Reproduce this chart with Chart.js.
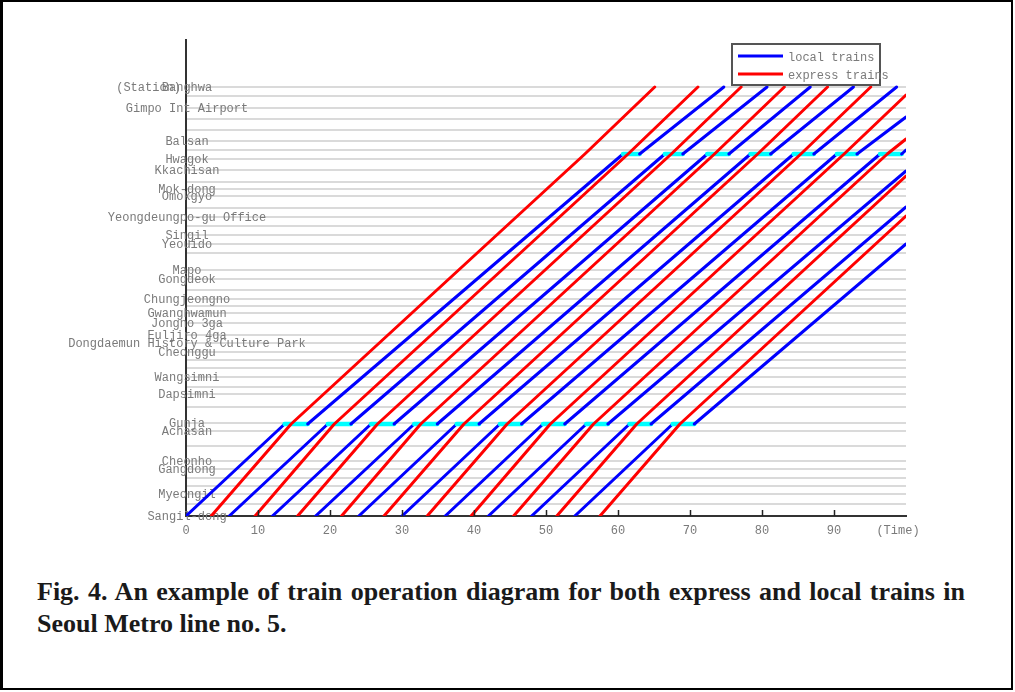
<!DOCTYPE html>
<html>
<head>
<meta charset="utf-8">
<script src="https://cdn.jsdelivr.net/npm/chart.js@4.4.1/dist/chart.umd.min.js"></script>
<style>
html,body{margin:0;padding:0;background:#fff;}
body{width:1015px;height:692px;position:relative;overflow:hidden;}
#frame{position:absolute;left:0;top:0;width:1008px;height:686px;border:2px solid #000;border-left-width:3px;}
#wrap{position:absolute;left:0;top:0;width:1015px;height:560px;}
.cap{position:absolute;font-family:"Liberation Serif","Times New Roman",serif;font-size:26px;line-height:32px;color:#1a1a1a;font-weight:bold;}
#cap1{left:37px;top:576px;width:928px;text-align:justify;text-align-last:justify;white-space:nowrap;}
#cap2{left:37px;top:608px;white-space:nowrap;}
</style>
</head>
<body>
<div id="frame"></div>
<div id="wrap"><canvas id="c" width="1015" height="560"></canvas></div>
<div class="cap" id="cap1">Fig. 4. An example of train operation diagram for both express and local trains in</div>
<div class="cap" id="cap2">Seoul Metro line no. 5.</div>
<script>
// ---- stations (position along the line, Sangil-dong = 0) ----
const stationNames = ['Banghwa','Gaehwasan','Gimpo Intl Airport','Songjeong','Magok','Balsan','Ujangsan','Hwagok','Kkachisan','Sinjeong','Mok-dong','Omokgyo','Yangpyeong','Yeongdeungpo-gu Office','Yeongdeungpo Market','Singil','Yeouido','Yeouinaru','Mapo','Gongdeok','Aeogae','Chungjeongno','Seodaemun','Gwanghwamun','Jongno 3-ga','Euljiro 4-ga','Dongdaemun History & Culture Park','Cheonggu','Singeumho','Haengdang','Wangsimni','Majang','Dapsimni','Janghanpyeong','Gunja','Achasan','Gwangnaru','Cheonho','Gangdong','Gil-dong','Gubeundari','Myeongil','Godeok','Sangil-dong'];
const stationPos = [42.9,42.0,40.8,39.7,38.6,37.5,36.6,35.7,34.6,33.4,32.7,32.0,30.8,29.9,29.0,28.1,27.2,26.3,24.6,23.7,22.6,21.7,21.0,20.3,19.3,18.1,17.3,16.4,15.6,14.8,13.9,12.9,12.2,10.9,9.3,8.5,7.0,5.5,4.7,3.8,3.0,2.2,1.2,0];
const stationLabels = ['Banghwa','','Gimpo Int Airport','','','Balsan','','Hwagok','Kkachisan','','Mok-dong','Omokgyo','','Yeongdeungpo-gu Office','','Singil','Yeouido','','Mapo','Gongdeok','','Chungjeongno','','Gwanghwamun','Jongno 3ga','Euljiro 4ga','Dongdaemun History & Culture Park','Cheonggu','','','Wangsimni','','Dapsimni','','Gunja','Achasan','','Cheonho','Gangdong','','','Myeongil','','Sangil-dong'];
const yAxisTitle = '(Station)';
const yMax = 47.6;

// passing loops where local trains wait (position values)
const loopLowerPos = 9.2;   // near Gunja
const loopUpperPos = 36.2;  // near Hwagok
const terminalPos = 42.9;   // Banghwa
const originPos = 0;        // Sangil-dong

// ---- x axis ----
const xTickValues = [0,10,20,30,40,50,60,70,80,90,100];
const xTickLabels = ['0','10','20','30','40','50','60','70','80','90','(Time)'];
const xMax = 100;

// ---- local trains (minutes) ----
const localDepart    = [0, 6, 12, 18, 24, 30, 36, 42, 48, 54];
const localLowerArr  = [13.7, 19.7, 25.7, 31.7, 37.6, 43.6, 49.6, 55.6, 61.6, 67.6];
const localLowerDep  = [16.9, 22.9, 28.9, 34.9, 40.7, 46.6, 52.6, 58.6, 64.6, 70.6];
const localUpperArr  = [60.7, 66.5, 72.4, 78.4, 84.4, 90.4, 96.4, null, null, null];
const localUpperDep  = [63.0, 69.0, 75.4, 81.2, 87.2, 93.2, 99.4, null, null, null];
const localArrive    = [74.7, 80.7, 86.7, 92.7, 98.7, null, null, null, null, null];
const localEdgePos   = [null, null, null, null, null, 39.9, 36.6, 34.5, 30.9, 27.2];

// ---- express trains (minutes) ----
const expressDepart   = [3.5, 9.6, 15.5, 21.6, 27.5, 33.5, 39.6, 45.5, 51.5, 57.5];
const expressLowerPass= [14.6, 20.6, 26.6, 32.6, 38.6, 44.6, 50.6, 56.6, 62.6, 68.6];
const expressUpperPass= [55.4, 61.4, 67.4, 73.4, 79.4, 85.4, 91.4, 97.4, null, null];
const expressArrive   = [65.1, 71.1, 77.1, 83.1, 89.1, 95.1, null, null, null, null];
const expressEdgePos  = [null, null, null, null, null, null, 42.1, 37.7, 34.0, 30.0];

const legendLabels = ['local trains','express trains'];
const BLUE = '#0000ff', RED = '#ff0000', CYAN = '#00ffff';

function localPoints(i){
  const p = [{x:localDepart[i], y:originPos},
             {x:localLowerArr[i], y:loopLowerPos},
             {x:localLowerDep[i], y:loopLowerPos}];
  if (localUpperArr[i] !== null) p.push({x:localUpperArr[i], y:loopUpperPos});
  if (localUpperDep[i] !== null) p.push({x:localUpperDep[i], y:loopUpperPos});
  if (localArrive[i] !== null) p.push({x:localArrive[i], y:terminalPos});
  else p.push({x:xMax, y:localEdgePos[i]});
  return p;
}
function expressPoints(i){
  const p = [{x:expressDepart[i], y:originPos},
             {x:expressLowerPass[i], y:loopLowerPos}];
  if (expressUpperPass[i] !== null) p.push({x:expressUpperPass[i], y:loopUpperPos});
  if (expressArrive[i] !== null) p.push({x:expressArrive[i], y:terminalPos});
  else p.push({x:xMax, y:expressEdgePos[i]});
  return p;
}

const LW = 3;
const datasets = [];
expressDepart.forEach((_, i) => datasets.push({
  label: 'express', data: expressPoints(i), borderColor: RED, borderWidth: LW, order: 0, clip: 0
}));
localDepart.forEach((_, i) => datasets.push({
  label: 'local', data: localPoints(i), borderColor: BLUE, borderWidth: LW, order: 1, clip: 0,
  segment: {
    borderColor: c => c.p0.parsed.y === c.p1.parsed.y ? CYAN : undefined,
    borderWidth: c => c.p0.parsed.y === c.p1.parsed.y ? 4.5 : undefined
  }
}));

const FONT = '12px "Liberation Mono", "DejaVu Sans Mono", monospace';
const TXT = '#7a7a7a';

const axisText = {
  id: 'axisText',
  beforeDatasetsDraw(chart){
    const {ctx, chartArea:a, scales:{x, y}} = chart;
    ctx.save();
    ctx.font = FONT;
    ctx.fillStyle = TXT;
    ctx.textBaseline = 'middle';
    ctx.textAlign = 'center';
    stationPos.forEach((v, i) => {
      const lab = stationLabels[i];
      if (!lab) return;
      ctx.fillText(lab, a.left + 1, y.getPixelForValue(v) + 1);
    });
    ctx.textAlign = 'right';
    ctx.fillText(yAxisTitle, a.left - 5, y.getPixelForValue(stationPos[0]) + 1);
    ctx.textAlign = 'center';
    xTickValues.forEach((v, i) => {
      let px = x.getPixelForValue(v);
      if (i === xTickValues.length - 1) px -= 8;
      ctx.fillText(xTickLabels[i], px, a.bottom + 15);
    });
    ctx.restore();
  },
  afterDatasetsDraw(chart){
    const {ctx, chartArea:a, scales:{x}} = chart;
    ctx.save();
    ctx.strokeStyle = '#222';
    ctx.lineWidth = 1.5;
    xTickValues.slice(1, -1).forEach(v => {
      const px = Math.round(x.getPixelForValue(v)) + 0.5;
      ctx.beginPath(); ctx.moveTo(px, a.bottom); ctx.lineTo(px, a.bottom - 6); ctx.stroke();
    });
    ctx.restore();
  },
  afterDraw(chart){
    const {ctx, chartArea:a} = chart;
    ctx.save();
    const L = a.right - 174, T = a.top + 4, W = 148, H = 41;
    ctx.fillStyle = '#fff';
    ctx.fillRect(L, T, W, H);
    ctx.strokeStyle = '#555';
    ctx.lineWidth = 2;
    ctx.strokeRect(L, T, W, H);
    const rows = [[BLUE, T + 12], [RED, T + 30]];
    ctx.font = FONT;
    ctx.textBaseline = 'middle';
    ctx.textAlign = 'left';
    rows.forEach(([col, yy], i) => {
      ctx.strokeStyle = col; ctx.lineWidth = LW;
      ctx.beginPath(); ctx.moveTo(L + 6, yy); ctx.lineTo(L + 51, yy); ctx.stroke();
      ctx.fillStyle = TXT;
      ctx.fillText(legendLabels[i], L + 56, yy + 2);
    });
    ctx.restore();
  }
};

new Chart(document.getElementById('c'), {
  type: 'line',
  data: { datasets },
  plugins: [axisText],
  options: {
    responsive: false,
    animation: false,
    events: [],
    layout: { padding: { left: 186, top: 40, right: 109, bottom: 44 } },
    plugins: { legend: { display: false }, tooltip: { enabled: false } },
    elements: { point: { radius: 0 }, line: { tension: 0, borderCapStyle: 'round', borderJoinStyle: 'round' } },
    scales: {
      x: { type: 'linear', min: 0, max: xMax,
           grid: { display: false, drawTicks: false },
           ticks: { display: false },
           border: { display: true, color: '#333', width: 2 } },
      y: { type: 'linear', min: 0, max: yMax,
           afterBuildTicks: s => { s.ticks = stationPos.map(v => ({ value: v })); },
           grid: { color: '#dadada', lineWidth: 2, drawTicks: false },
           ticks: { display: false },
           border: { display: true, color: '#333', width: 2 } }
    }
  }
});
</script>
</body>
</html>
